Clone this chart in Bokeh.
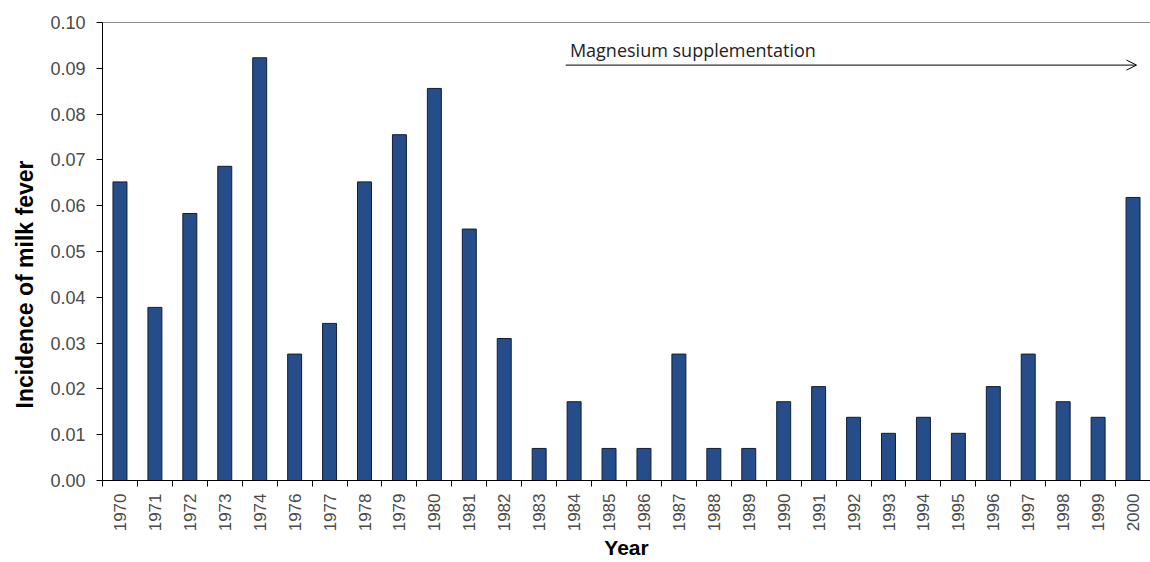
from math import pi
from bokeh.plotting import figure
from bokeh.models import (FactorRange, Range1d, LinearAxis, CategoricalAxis, FixedTicker,
                          Label, Arrow, OpenHead, ColumnDataSource, PrintfTickFormatter, Title)
from bokeh.embed import file_html
from bokeh.resources import INLINE

years = ["1970", "1971", "1972", "1973", "1974", "1976", "1977", "1978", "1979", "1980",
         "1981", "1982", "1983", "1984", "1985", "1986", "1987", "1988", "1989", "1990",
         "1991", "1992", "1993", "1994", "1995", "1996", "1997", "1998", "1999", "2000"]
incidence = [0.0652, 0.0378, 0.0583, 0.0686, 0.0923, 0.0276, 0.0343, 0.0652, 0.0755, 0.0856,
             0.0549, 0.0310, 0.0070, 0.0172, 0.0070, 0.0070, 0.0276, 0.0070, 0.0070, 0.0172,
             0.0205, 0.0138, 0.0103, 0.0138, 0.0103, 0.0205, 0.0276, 0.0172, 0.0138, 0.0618]
y_ticks = [0.00, 0.01, 0.02, 0.03, 0.04, 0.05, 0.06, 0.07, 0.08, 0.09, 0.10]
y_title = "Incidence of milk fever"
x_title = "Year"
note_text = "Magnesium  supplementation"
note_from, note_to = "1984", "2000"

FONT = "Liberation Sans"
n = len(years)

p = figure(x_range=FactorRange(*years, range_padding=0),
           y_range=Range1d(y_ticks[0], y_ticks[-1]),
           width=1150, height=562, output_backend="svg", toolbar_location=None,
           x_axis_location=None, y_axis_location=None,
           min_border_left=102, min_border_right=0, min_border_top=22, min_border_bottom=80)
p.outline_line_color = None
p.xgrid.visible = False
p.ygrid.visible = False
p.background_fill_color = "white"
p.border_fill_color = "white"

src = ColumnDataSource(dict(year=years, val=incidence))
p.vbar(x="year", top="val", width=0.4, bottom=0, source=src,
       fill_color="#244d8a", line_color="#101e38", line_width=1)

# y axis
ya = LinearAxis(ticker=FixedTicker(ticks=y_ticks), formatter=PrintfTickFormatter(format="%.2f"))
ya.axis_line_color = "black"
ya.major_tick_line_color = "black"
ya.major_tick_in = 0
ya.major_tick_out = 6
ya.minor_tick_line_color = None
ya.major_label_standoff = 11
ya.major_label_text_font = FONT
ya.major_label_text_font_size = "18px"
ya.major_label_text_color = "#4a4a4a"
p.add_layout(ya, "left")

# y title
p.add_layout(Title(text=y_title, align="left", offset=72, standoff=19,
                   text_font=FONT, text_font_size="23px", text_font_style="bold",
                   text_color="black"), "left")

# top border line
ta = LinearAxis(ticker=FixedTicker(ticks=[]))
ta.axis_line_color = "#8c8c8c"
ta.major_tick_line_color = None
ta.minor_tick_line_color = None
ta.major_label_text_font_size = "1px"
ta.major_label_standoff = 0
p.add_layout(ta, "above")

# tick marks at category boundaries
ba = LinearAxis(ticker=FixedTicker(ticks=list(range(n + 1))))
ba.axis_line_color = "black"
ba.major_tick_line_color = "black"
ba.major_tick_in = 0
ba.major_tick_out = 6
ba.minor_tick_line_color = None
ba.major_label_text_font_size = "0px"
ba.major_label_text_alpha = 0
ba.major_label_standoff = 0
p.add_layout(ba, "below")

# category labels
xa = CategoricalAxis()
xa.axis_line_color = None
xa.major_tick_line_color = None
xa.major_tick_out = 0
xa.major_tick_in = 0
xa.major_label_orientation = pi / 2
xa.major_label_standoff = 7
xa.major_label_text_font = FONT
xa.major_label_text_font_size = "17px"
xa.major_label_text_color = "#4a4a4a"
xa.axis_label = x_title
xa.axis_label_text_font = FONT
xa.axis_label_text_font_size = "21px"
xa.axis_label_text_font_style = "bold"
xa.axis_label_text_color = "black"
xa.axis_label_standoff = 2
p.add_layout(xa, "below")

# annotation arrow
i0 = years.index(note_from)
i1 = years.index(note_to)
p.add_layout(Arrow(x_start=i0 + 0.26, y_start=0.0907, x_end=i1 + 0.6, y_end=0.0907,
                   line_color="black", line_width=1,
                   end=OpenHead(size=10, line_color="black", line_width=1)))
p.add_layout(Label(x=i0 + 0.38, y=0.0941, text=note_text,
                   text_align="left", text_baseline="alphabetic",
                   text_font="Open Sans", text_font_size="18px",
                   text_color="#222222"))

open("out.html", "w").write(file_html(p, INLINE))
